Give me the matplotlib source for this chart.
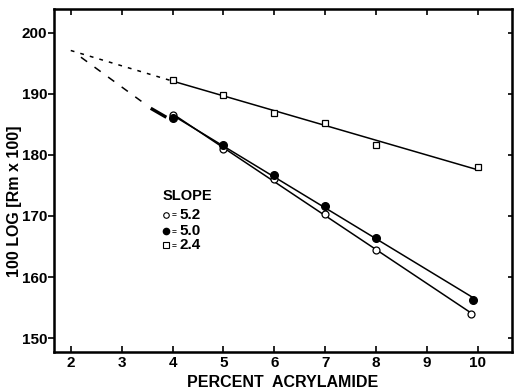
import matplotlib.pyplot as plt
import numpy as np

plt.rcParams['font.family'] = ['Liberation Sans', 'DejaVu Sans']
plt.rcParams['font.weight'] = 'bold'

# 数据
x_sq = [4, 5, 6, 7, 8, 10]
y_sq = [192.3, 189.8, 186.9, 185.2, 181.6, 178.0]

x_open = [4, 5, 6, 7, 8, 9.87]
y_open = [186.6, 180.9, 176.0, 170.3, 164.5, 153.9]

x_fill = [4, 5, 6, 7, 8, 9.9]
y_fill = [186.0, 181.6, 176.7, 171.6, 166.4, 156.3]

intercept_x = 2.0
intercept_y = 197.1

slope_labels = ['5.2', '5.0', '2.4']

fig = plt.figure(figsize=(5.14, 3.9), dpi=100)
ax = fig.add_axes([0.105, 0.097, 0.891, 0.88])

# 拟合直线
for xs, ys, x0, x1 in [(x_sq, y_sq, 4, 10), (x_open, y_open, 4, 9.85), (x_fill, y_fill, 4, 9.9)]:
    p = np.polyfit(xs, ys, 1)
    xx = np.array([x0, x1])
    ax.plot(xx, np.polyval(p, xx), color='black', lw=1.1, zorder=2)

# 外推虚线
p_sq = np.polyfit(x_sq, y_sq, 1)
ax.plot([intercept_x, 4], [intercept_y, np.polyval(p_sq, 4)], color='black', lw=1.1,
        ls=(0, (2.5, 4)), zorder=2)
ax.plot([intercept_x + 0.2, 3.45], [intercept_y - 1.1, 188.4], color='black', lw=1.1,
        ls=(0, (5, 6)), zorder=2)
ax.plot([3.6, 3.85], [187.5, 186.3], color='black', lw=2.4, zorder=2)

# 数据点
ax.plot(x_sq, y_sq, 's', mfc='white', mec='black', ms=5, mew=0.9, zorder=3)
ax.plot(x_open, y_open, 'o', mfc='white', mec='black', ms=5, mew=0.9, zorder=3)
ax.plot(x_fill, y_fill, 'o', mfc='black', mec='black', ms=5.5, zorder=3)

ax.set_xlim(1.67, 10.67)
ax.set_ylim(147.7, 203.9)
ax.set_xticks(np.arange(2, 11, 1))
ax.set_yticks(np.arange(150, 201, 10))
ax.tick_params(axis='x', direction='in', top=True, length=4, width=1.2, labelsize=11, pad=3)
ax.tick_params(axis='y', direction='out', right=False, length=4, width=1.2, labelsize=11, pad=1)
for lab in ax.get_xticklabels() + ax.get_yticklabels():
    lab.set_fontweight('bold')
for s in ax.spines.values():
    s.set_linewidth(1.8)

# 右侧内向刻度
ax2 = ax.twinx()
ax2.set_ylim(ax.get_ylim())
ax2.set_yticks(np.arange(150, 201, 10))
ax2.tick_params(axis='y', direction='in', length=3, width=1.2, labelright=False)

ax.set_xlabel('PERCENT  ACRYLAMIDE', fontsize=11.5, fontweight='bold', labelpad=3)
ax.set_ylabel('100 LOG [Rm x 100]', fontsize=11.5, fontweight='bold')
ax.yaxis.set_label_coords(-0.07, 0.44)

# 图例文字
ax.text(3.8, 173.3, 'SLOPE', fontsize=10.5, fontweight='bold', va='center')
ax.plot(3.87, 170.2, 'o', mfc='white', mec='black', ms=4, mew=0.8)
ax.plot(3.87, 167.5, 'o', mfc='black', mec='black', ms=4.5)
ax.plot(3.87, 165.2, 's', mfc='white', mec='black', ms=4, mew=0.8)
for yy, lab in zip([170.2, 167.5, 165.2], slope_labels):
    ax.text(3.99, yy, '=', fontsize=6, fontweight='bold', va='center')
    ax.text(4.14, yy, lab, fontsize=11, fontweight='bold', va='center')

fig.savefig('out.png', dpi=100)
